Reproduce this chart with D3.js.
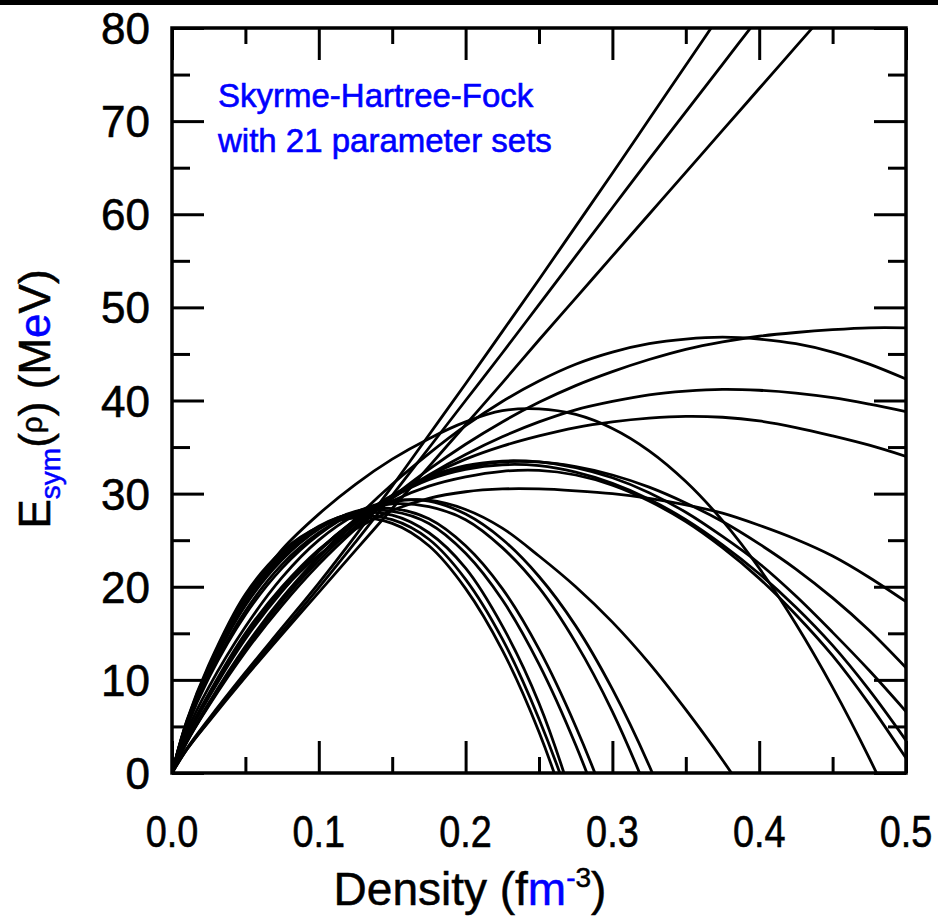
<!DOCTYPE html>
<html><head><meta charset="utf-8">
<script src="https://cdn.jsdelivr.net/npm/d3@7"></script>
<style>body{margin:0;background:#fff;} svg{display:block;}</style>
</head><body>
<svg id="chart" width="938" height="923"></svg>
<script>
// ---------- data ----------
const densityGrid = [0,0.01,0.025,0.05,0.075,0.1,0.125,0.15,0.175,0.2,0.225,0.25,0.275,0.3,0.325,0.35,0.375,0.4,0.425,0.45,0.475,0.5];
const setA1 = [0,2.6,5.8,10.8,15.6,20.4,25.5,30.8,36.3,41.8,47.4,53.0,58.7,64.4,70.2,76.0,81.8,87.6,null,null,null,null];
const setA2 = [0,2.5,5.6,10.5,15.2,19.9,24.8,29.8,34.9,40.0,45.1,50.3,55.5,60.7,65.9,71.0,76.1,81.2,null,null,null,null];
const setA3 = [0,2.5,5.5,10.3,14.9,19.4,23.9,28.4,32.9,37.4,41.9,46.5,51.0,55.5,60.0,64.5,69.0,73.5,78.0,82.5,null,null];
const setB1 = [0,3.3,7.2,13.0,18.0,22.4,26.2,29.6,32.6,35.3,37.7,39.8,41.6,43.1,44.4,45.5,46.3,46.9,47.3,47.6,47.8,47.8];
const setB2 = [0,3.4,7.4,13.4,18.6,23.2,27.3,31.0,34.3,37.3,39.9,42.1,43.9,45.2,46.1,46.6,46.8,46.6,46.1,45.2,43.9,42.3];
const setB3 = [0,3.3,7.3,13.3,18.4,22.8,26.5,29.5,32.0,34.2,36.1,37.7,39.0,39.9,40.6,41.0,41.2,41.1,40.8,40.3,39.6,38.8];
const setB4 = [0,3.4,7.5,13.6,18.8,23.2,26.8,29.6,31.9,33.7,35.1,36.2,37.1,37.7,38.1,38.3,38.2,37.8,37.1,36.2,35.2,34.0];
const setC0 = [0,5.4,11.2,18.8,24.0,27.8,31.0,33.7,35.9,37.7,38.9,39.1,38.5,37.0,34.6,31.3,27.1,22.0,16.0,9.2,1.6,-6.8];
const setC1 = [0,3.9,8.4,14.6,19.6,23.4,26.2,28.2,29.5,30.2,30.5,30.5,30.3,30.0,29.5,28.8,27.9,26.6,25.1,23.3,21.0,18.4];
const setC2 = [0,3.8,8.2,14.6,19.7,23.9,27.2,29.8,31.6,32.8,33.4,33.4,32.9,32.0,30.7,29.0,27.0,24.6,21.9,18.8,15.3,11.3];
const setC3 = [0,3.8,8.1,14.4,19.5,23.8,27.2,29.8,31.8,33.0,33.5,33.4,32.8,31.7,30.1,28.0,25.4,22.5,19.0,15.1,11.0,6.6];
const setC4 = [0,3.9,8.3,14.8,19.8,23.9,27.1,29.6,31.5,32.6,33.1,33.0,32.3,31.1,29.4,27.2,24.5,21.4,17.8,13.7,8.9,3.5];
const setC5 = [0,4.0,8.5,15.0,20.0,24.0,27.0,29.2,30.8,31.8,32.4,32.5,32.0,30.9,29.2,27.0,24.2,20.9,17.0,12.6,7.4,1.6];
const setD0 = [0,5.6,11.6,19.2,23.8,26.4,27.4,26.8,24.4,19.8,13.2,4.4,-7.0,-21.0,null,null,null,null,null,null,null,null];
const setD1 = [0,5.5,11.4,19.0,23.6,26.4,27.6,27.2,25.1,20.8,14.4,5.8,-5.0,-19.0,null,null,null,null,null,null,null,null];
const setD2 = [0,5.4,11.2,18.7,23.4,26.5,27.9,27.7,25.8,22.0,15.8,7.5,-4.0,-18.5,null,null,null,null,null,null,null,null];
const setD3 = [0,5.3,11.0,18.4,23.2,26.4,28.0,28.1,26.8,23.6,18.6,11.7,3.0,-7.5,-20.0,null,null,null,null,null,null,null];
const setD4 = [0,5.2,10.8,18.0,22.9,26.2,28.1,28.4,27.3,24.4,19.8,13.3,5.0,-5.0,-17.0,null,null,null,null,null,null,null];
const setD5 = [0,5.0,10.4,17.4,22.4,25.8,28.0,28.9,28.6,27.2,24.2,19.9,14.0,6.6,-2.5,-13.0,null,null,null,null,null,null];
const setD6 = [0,4.9,10.2,17.0,22.0,25.6,28.0,29.2,29.2,27.8,25.1,21.1,15.8,9.0,0.8,-9.0,null,null,null,null,null,null];
const setD7 = [0,4.4,9.2,15.7,21.0,25.0,27.7,29.1,29.3,28.3,26.3,23.3,20.0,16.2,11.8,6.8,1.4,-4.5,null,null,null,null];
const parameterSets = [setA1,setA2,setA3,setB1,setB2,setB3,setB4,setC0,setC1,setC2,setC3,setC4,setC5,
                       setD0,setD1,setD2,setD3,setD4,setD5,setD6,setD7];

const xMajorTicks = [0,0.1,0.2,0.3,0.4,0.5];
const xMinorTicks = [0.05,0.15,0.25,0.35,0.45];
const xTickLabels = ["0.0","0.1","0.2","0.3","0.4","0.5"];
const yMajorTicks = [0,10,20,30,40,50,60,70,80];
const yMinorTicks = [5,15,25,35,45,55,65,75];
const yTickLabels = ["0","10","20","30","40","50","60","70","80"];
const noteLines = ["Skyrme-Hartree-Fock","with 21 parameter sets"];

// ---------- drawing ----------
const svg = d3.select("#chart");
const L = 172, R = 906, T = 28, B = 773;
const x = d3.scaleLinear().domain([0,0.5]).range([L,R]);
const y = d3.scaleLinear().domain([0,80]).range([B,T]);
const FONT = "'Liberation Sans', Arial, Helvetica, sans-serif";

svg.append("rect").attr("x",0).attr("y",0).attr("width",938).attr("height",5).attr("fill","#000");

svg.append("clipPath").attr("id","clip").append("rect")
  .attr("x",L).attr("y",T).attr("width",R-L).attr("height",B-T);

const line = d3.line()
  .defined(d => d[1] !== null)
  .x(d => x(d[0])).y(d => y(d[1]))
  .curve(d3.curveCatmullRom.alpha(0.5));

svg.append("g").attr("clip-path","url(#clip)")
  .selectAll("path").data(parameterSets).join("path")
  .attr("d", s => line(s.map((v,i) => [densityGrid[i], v])))
  .attr("fill","none").attr("stroke","#000").attr("stroke-width",2.8);

// ticks via axes
function tickAxis(axisGen, transform, vals, size){
  const g = svg.append("g").attr("transform",transform)
    .call(axisGen.tickValues(vals).tickSize(size).tickFormat(""));
  g.select(".domain").remove();
  g.selectAll(".tick line").attr("stroke","#000").attr("stroke-width",3);
}
tickAxis(d3.axisBottom(x), `translate(0,${B})`, xMajorTicks, -32);
tickAxis(d3.axisBottom(x), `translate(0,${B})`, xMinorTicks, -16);
tickAxis(d3.axisTop(x), `translate(0,${T})`, xMajorTicks, -32);
tickAxis(d3.axisTop(x), `translate(0,${T})`, xMinorTicks, -16);
tickAxis(d3.axisLeft(y), `translate(${L},0)`, yMajorTicks, -32);
tickAxis(d3.axisLeft(y), `translate(${L},0)`, yMinorTicks, -18);
tickAxis(d3.axisRight(y), `translate(${R},0)`, yMajorTicks, -32);
tickAxis(d3.axisRight(y), `translate(${R},0)`, yMinorTicks, -18);

svg.append("rect").attr("x",L).attr("y",T).attr("width",R-L).attr("height",B-T)
  .attr("fill","none").attr("stroke","#000").attr("stroke-width",3.5);

// tick labels
svg.append("g").selectAll("text").data(yMajorTicks).join("text")
  .attr("x",150).attr("y",d => y(d)+16)
  .attr("text-anchor","end").attr("font-family",FONT).attr("font-size",44)
  .attr("stroke","#000").attr("stroke-width",0.6)
  .text((d,i) => yTickLabels[i]);
svg.append("g").selectAll("text").data(xMajorTicks).join("text")
  .attr("transform",d => `translate(${x(d)},847) scale(0.86,1)`)
  .attr("text-anchor","middle").attr("font-family",FONT).attr("font-size",44)
  .attr("stroke","#000").attr("stroke-width",0.6)
  .text((d,i) => xTickLabels[i]);

// x title
const xt = svg.append("text").attr("transform","translate(470,905)")
  .attr("text-anchor","middle").attr("font-family",FONT).attr("font-size",46)
  .attr("stroke","currentColor").attr("stroke-width",0.5);
xt.append("tspan").text("Density (f");
xt.append("tspan").attr("fill","#0000ff").attr("stroke","#0000ff").text("m");
xt.append("tspan").attr("fill","#0000ff").attr("stroke","#0000ff").attr("font-size",28).attr("dy",-18).text("-");
xt.append("tspan").attr("font-size",28).text("3");
xt.append("tspan").attr("dy",18).text(")");

// y title
const yt = svg.append("text").attr("transform","translate(50,399) rotate(-90)")
  .attr("text-anchor","middle").attr("font-family",FONT).attr("font-size",44)
  .attr("stroke","#000").attr("stroke-width",0.5);
yt.append("tspan").text("E");
yt.append("tspan").attr("fill","#0000ff").attr("stroke","#0000ff").attr("font-size",28).attr("dy",10).text("sym");
yt.append("tspan").attr("dy",-10).text("(");
yt.append("tspan").attr("font-size",30).attr("dy",-8).text("ρ");
yt.append("tspan").attr("dy",8).text(") (M");
yt.append("tspan").attr("fill","#0000ff").attr("stroke","#0000ff").text("e");
yt.append("tspan").text("V)");

// annotation
svg.append("g").selectAll("text").data(noteLines).join("text")
  .attr("x",218).attr("y",(d,i) => 107 + i*45)
  .attr("font-family",FONT).attr("font-size",33).attr("fill","#0000ff")
  .attr("stroke","#0000ff").attr("stroke-width",0.6)
  .text(d => d);
</script>
</body></html>
